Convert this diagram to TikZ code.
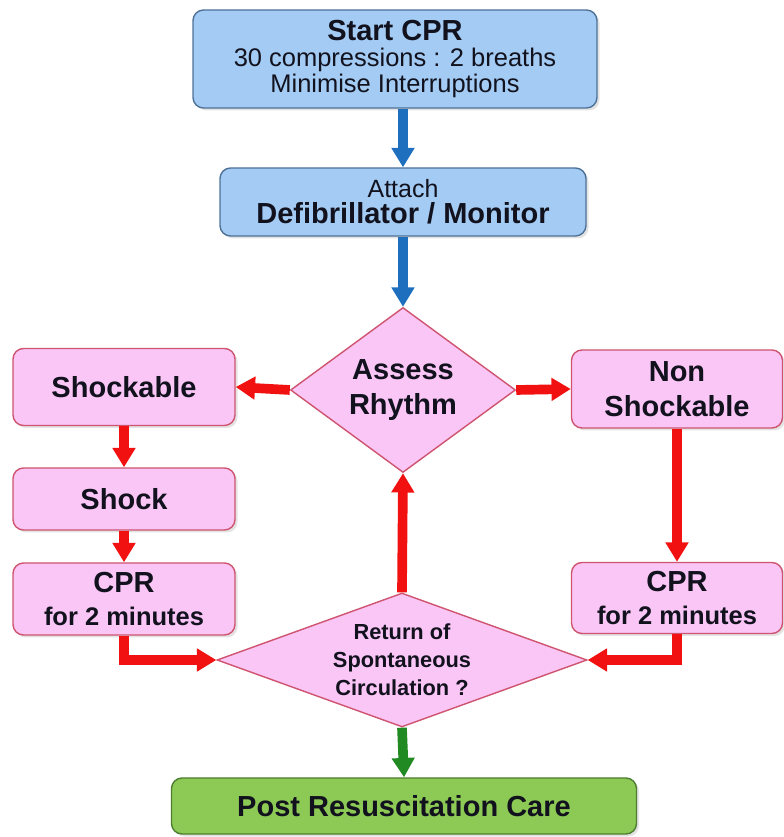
\documentclass[tikz,border=0pt]{standalone}
\usepackage{fontspec}
\setmainfont{Liberation Sans}
\usepackage{tikz}
\usetikzlibrary{shapes.geometric, arrows.meta, positioning, shadows}
\definecolor{cprBlue}{HTML}{A3CBF3}
\definecolor{cprBlueLine}{HTML}{4E7197}
\definecolor{cprBlueArrow}{HTML}{1F6FBF}
\definecolor{cprPink}{HTML}{F9C6F6}
\definecolor{cprPinkLine}{HTML}{CF5470}
\definecolor{cprRed}{HTML}{F21111}
\definecolor{cprGreen}{HTML}{8CC955}
\definecolor{cprGreenLine}{HTML}{4E7F30}
\definecolor{cprGreenArrow}{HTML}{218A22}
\definecolor{cprText}{HTML}{12121E}

\begin{document}
\begin{tikzpicture}[
  big/.style={font=\fontsize{16.5}{20}\selectfont\bfseries},
  box/.style={draw, rounded corners=6pt, line width=0.8pt, align=center, text=cprText,
              inner sep=2pt,
              drop shadow={opacity=0.22, shadow xshift=0.05cm, shadow yshift=-0.05cm}},
  bluebox/.style={box, draw=cprBlueLine, fill=cprBlue},
  pinkbox/.style={box, big, draw=cprPinkLine, fill=cprPink},
  greenbox/.style={box, big, draw=cprGreenLine, fill=cprGreen},
  decision/.style={diamond, draw=cprPinkLine, fill=cprPink, line width=0.8pt,
                   align=center, inner sep=0pt, text=cprText},
  flow/.style={line width=5.5pt, -{Triangle[width=12.5pt, length=11pt]}},
]
\useasboundingbox (0,0) rectangle (15.68,16.74);

% ---------------- Start / monitor ----------------
\node[bluebox, minimum width=8.08cm, minimum height=1.96cm,
      font=\fontsize{14.5}{15}\selectfont] (start) at (7.90,15.56)
  {{\fontsize{16.5}{15}\selectfont\bfseries Start CPR}\\30 compressions : 2 breaths\\Minimise Interruptions};
\node[bluebox, minimum width=7.32cm, minimum height=1.36cm,
      font=\fontsize{14.2}{15}\selectfont] (defib) at (8.06,12.70)
  {Attach\\{\fontsize{16.5}{15}\selectfont\bfseries Defibrillator / Monitor}};

% ---------------- Assess rhythm ----------------
\node[decision, big, aspect=1.36, minimum width=4.5cm, minimum height=3.3cm] (assess) at (8.06,8.94)
  {Assess\\Rhythm};

% ---------------- Shockable (left) ----------------
\node[pinkbox, minimum width=4.44cm, minimum height=1.54cm] (shockable) at (2.48,9.00) {Shockable};
\node[pinkbox, minimum width=4.44cm, minimum height=1.24cm] (shock)     at (2.48,6.76) {Shock};
\node[pinkbox, minimum width=4.44cm, minimum height=1.44cm,
      font=\fontsize{16.5}{19}\selectfont\bfseries] (cprL) at (2.48,4.76)
  {CPR\\{\fontsize{14.5}{19}\selectfont for 2 minutes}};

% ---------------- Non shockable (right) ----------------
\node[pinkbox, minimum width=4.22cm, minimum height=1.56cm] (nonshock) at (13.54,8.96) {Non\\Shockable};
\node[pinkbox, minimum width=4.22cm, minimum height=1.42cm,
      font=\fontsize{16.5}{19}\selectfont\bfseries] (cprR) at (13.54,4.78)
  {CPR\\{\fontsize{14.5}{19}\selectfont for 2 minutes}};

% ---------------- ROSC / post care ----------------
\node[decision, font=\fontsize{12.4}{16}\selectfont\bfseries, aspect=2.76,
      minimum width=7.4cm, minimum height=2.68cm] (rosc) at (8.04,3.54)
  {Return of\\Spontaneous\\Circulation ?};
\node[greenbox, minimum width=9.3cm, minimum height=1.12cm] (post) at (8.08,0.62)
  {Post Resuscitation Care};

% ---------------- Connectors ----------------
\draw[flow, cprBlueArrow] (start.south -| defib.north) -- (defib.north);
\draw[flow, cprBlueArrow] (defib) -- (assess.north);
\draw[flow, cprRed] (assess.west) -- (shockable.east);
\draw[flow, cprRed] (assess.east) -- (nonshock.west);
\draw[flow, cprRed] (shockable) -- (shock);
\draw[flow, cprRed] (shock) -- (cprL);
\draw[flow, cprRed] (nonshock) -- (cprR);
\draw[flow, cprRed] (cprL.south) |- (rosc.west);
\draw[flow, cprRed] (cprR.south) |- (rosc.east);
\draw[flow, cprRed] (rosc.north) -- (assess.south);
\draw[flow, cprGreenArrow] (rosc.south) -- (post.north);
\end{tikzpicture}
\end{document}
